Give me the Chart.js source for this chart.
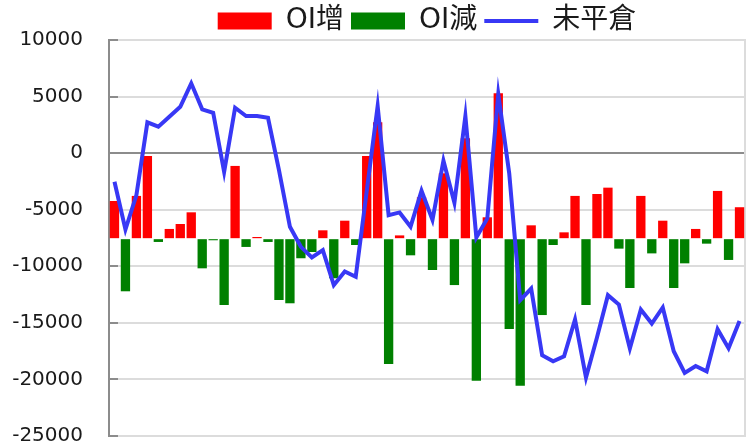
<!DOCTYPE html>
<html><head><meta charset="utf-8">
<script src="https://cdn.jsdelivr.net/npm/chart.js@4/dist/chart.umd.min.js"></script>
<style>html,body{margin:0;padding:0;background:#fff}#wrap{width:746px;height:446px;position:relative}</style>
</head><body><div id="wrap"><canvas id="c"></canvas></div>
<script>
const categories = Array.from({length: 58}, (_, i) => String(i + 1));
const seriesNames = ['OI增', 'OI減', '未平倉'];
const oiIncrease = [3330,null,3780,7310,null,860,1300,2330,null,null,
  null,6430,null,150,null,null,null,null,null,740,
  null,1590,null,7310,10280,null,290,null,3660,null,
  5780,null,8880,null,1890,12860,null,null,1180,null,
  null,560,3780,null,3950,4510,null,null,3780,null,
  1590,null,null,860,null,4220,null,2780];
const oiDecrease = [null,-4650,null,null,-290,null,null,null,-2620,-140,
  -5860,null,-730,null,-290,-5420,-5710,-1730,-1180,null,
  -3500,null,-560,null,null,-11080,null,-1470,null,-2770,
  null,-4100,null,-12560,null,null,-7990,-13000,null,-6750,
  -560,null,null,-5860,null,null,-880,-4360,null,-1300,
  null,-4360,-2180,null,-440,null,-1880,null];
const openInterest = [-2530,-6750,-3710,2720,2340,3220,4100,6170,3870,3570,
  -1650,4010,3280,3280,3130,-1500,-6510,-8280,-9220,-8570,
  -11670,-10460,-10930,-3400,4160,-5480,-5240,-6510,-3330,-5900,
  -670,-4390,3280,-7450,-5770,5220,-1800,-13000,-11970,-17860,
  -18390,-17950,-14700,-19840,-16300,-12550,-13380,-17270,-13820,-15060,
  -13640,-17510,-19430,-18810,-19280,-15560,-17240,-14830];
const yTickMin = -25000, yTickMax = 10000, yTickStep = 5000;

const FONT = "'DejaVu Sans', 'Noto Sans CJK TC', sans-serif";

const legendFit = {
  id: 'legendFit',
  beforeLayout(chart) {
    const lg = chart.legend;
    if (lg && !lg._fitPatched) {
      const orig = lg.fit;
      lg.fit = function() { orig.call(this); this.height = 40; };
      lg._fitPatched = true;
    }
  }
};

new Chart(document.getElementById('c'), {
  type: 'bar',
  data: {
    labels: categories,
    datasets: [
      { label: seriesNames[0], data: oiIncrease, backgroundColor: '#FF0000', borderWidth: 0,
        yAxisID: 'y2', grouped: false, order: 2, pointStyle: 'rect',
        barPercentage: 0.85, categoryPercentage: 1 },
      { label: seriesNames[1], data: oiDecrease, backgroundColor: '#008000', borderWidth: 0,
        yAxisID: 'y2', grouped: false, order: 2, pointStyle: 'rect',
        barPercentage: 0.85, categoryPercentage: 1 },
      { type: 'line', label: seriesNames[2], data: openInterest, borderColor: '#3838F5',
        backgroundColor: '#3838F5', borderWidth: 4, pointRadius: 0, tension: 0,
        yAxisID: 'y', order: 0, pointStyle: 'line', fill: false }
    ]
  },
  options: {
    responsive: true, maintainAspectRatio: false, animation: false,
    layout: { padding: { left: 12, right: 1, top: 0, bottom: 0 } },
    plugins: {
      tooltip: { enabled: false },
      legend: {
        position: 'top', align: 'center', fullSize: false,
        labels: {
          usePointStyle: true, pointStyleWidth: 54, boxHeight: 17, padding: 7,
          color: '#1a1a1a', font: { family: FONT, size: 28 },
          sort: (a, b) => a.datasetIndex - b.datasetIndex
        }
      }
    },
    scales: {
      x: { display: false, grid: { display: false } },
      y: {
        position: 'left', min: yTickMin, max: yTickMax,
        ticks: { stepSize: yTickStep, color: '#1a1a1a', padding: 35,
          font: { family: FONT, size: 20 }, callback: v => String(v) },
        grid: {
          color: ctx => (ctx.tick && ctx.tick.value === 0) ? '#8c8c8c' : '#dcdcdc',
          lineWidth: 2, tickLength: -9, tickColor: '#8c8c8c', tickWidth: 2
        },
        border: { color: '#8c8c8c', width: 2 },
        afterFit: s => { s.width = 97; s.paddingTop = 0; s.paddingBottom = 10; }
      },
      y2: {
        position: 'right', min: -17440, max: 17560,
        ticks: { display: false },
        grid: { drawOnChartArea: false, drawTicks: false },
        border: { color: '#dcdcdc', width: 2 }
      }
    }
  },
  plugins: [legendFit]
});
</script></body></html>
